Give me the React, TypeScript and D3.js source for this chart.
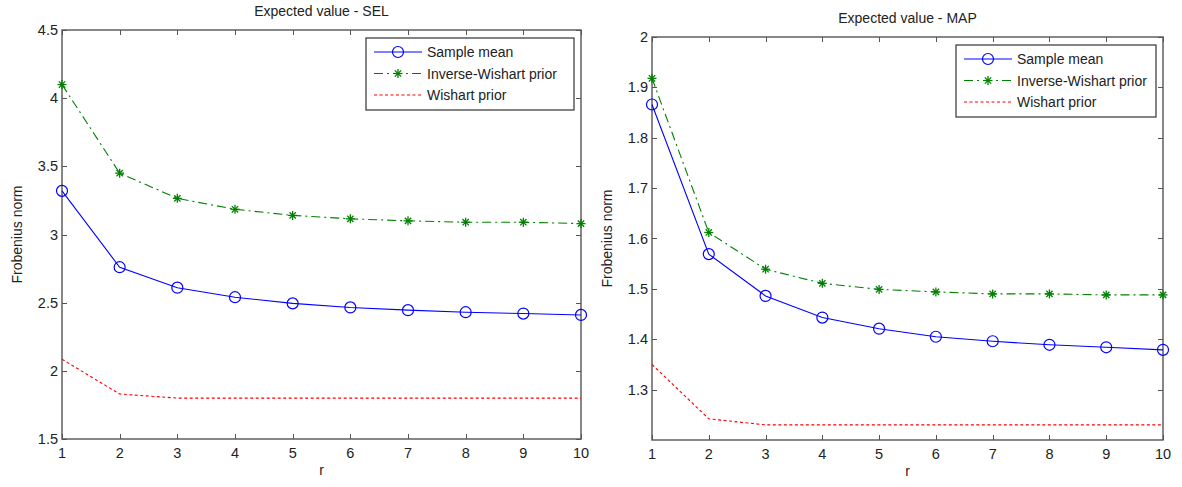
import { useRef, useEffect } from 'react'
import * as d3 from 'd3'

// r values on the x axis
const rValues = [1, 2, 3, 4, 5, 6, 7, 8, 9, 10]

// Expected value - SEL
const selSampleMean = [3.32, 2.76, 2.61, 2.54, 2.495, 2.465, 2.445, 2.43, 2.42, 2.41]
const selInvWishart = [4.1, 3.45, 3.265, 3.185, 3.14, 3.115, 3.1, 3.09, 3.09, 3.08]
const selWishart = [2.085, 1.83, 1.8, 1.8, 1.8, 1.8, 1.8, 1.8, 1.8, 1.8]
const selYTicks = [1.5, 2, 2.5, 3, 3.5, 4, 4.5]

// Expected value - MAP
const mapSampleMean = [1.866, 1.569, 1.486, 1.443, 1.421, 1.405, 1.396, 1.389, 1.384, 1.379]
const mapInvWishart = [1.918, 1.612, 1.539, 1.511, 1.499, 1.494, 1.49, 1.49, 1.488, 1.488]
const mapWishart = [1.35, 1.242, 1.23, 1.23, 1.23, 1.23, 1.23, 1.23, 1.23, 1.23]
const mapYTicks = [1.3, 1.4, 1.5, 1.6, 1.7, 1.8, 1.9, 2]

const seriesNames = ['Sample mean', 'Inverse-Wishart prior', 'Wishart prior']

const FONT = '"Liberation Sans", Arial, sans-serif'
const AXIS_COLOR = '#555'
const TEXT_COLOR = '#222'

const styles = [
  { color: '#0000ff', dash: null, marker: 'circle' },
  { color: '#008000', dash: '9,4,2,4', marker: 'star' },
  { color: '#ff0000', dash: '3,2.5', marker: null },
]

function drawPanel(svg, cfg) {
  const { left, right, top, bottom, title, yDomain, yTicks, series, legend } = cfg
  const g = svg.append('g')

  const x = d3.scaleLinear().domain([1, 10]).range([left, right])
  const y = d3.scaleLinear().domain(yDomain).range([bottom, top])

  // frame
  g.append('rect')
    .attr('x', left)
    .attr('y', top)
    .attr('width', right - left)
    .attr('height', bottom - top)
    .attr('fill', '#fff')
    .attr('stroke', AXIS_COLOR)
    .attr('stroke-width', 1.4)

  // ticks (inward, all four sides)
  const tl = 5
  rValues.forEach((r) => {
    const px = Math.round(x(r)) + 0.5
    g.append('line').attr('x1', px).attr('x2', px).attr('y1', bottom).attr('y2', bottom - tl).attr('stroke', AXIS_COLOR)
    g.append('line').attr('x1', px).attr('x2', px).attr('y1', top).attr('y2', top + tl).attr('stroke', AXIS_COLOR)
    g.append('text')
      .attr('x', x(r))
      .attr('y', bottom + 19)
      .attr('text-anchor', 'middle')
      .attr('font-family', FONT)
      .attr('font-size', 14.5)
      .attr('fill', TEXT_COLOR)
      .text(r)
  })
  yTicks.forEach((v) => {
    const py = Math.round(y(v)) + 0.5
    g.append('line').attr('x1', left).attr('x2', left + tl).attr('y1', py).attr('y2', py).attr('stroke', AXIS_COLOR)
    g.append('line').attr('x1', right).attr('x2', right - tl).attr('y1', py).attr('y2', py).attr('stroke', AXIS_COLOR)
    g.append('text')
      .attr('x', left - 4)
      .attr('y', y(v) + 5)
      .attr('text-anchor', 'end')
      .attr('font-family', FONT)
      .attr('font-size', 14.5)
      .attr('fill', TEXT_COLOR)
      .text(String(v))
  })

  // title and axis labels
  g.append('text')
    .attr('x', (left + right) / 2)
    .attr('y', top - 14)
    .attr('text-anchor', 'middle')
    .attr('font-family', FONT)
    .attr('font-size', 14)
    .attr('fill', TEXT_COLOR)
    .text(title)
  g.append('text')
    .attr('x', (left + right) / 2)
    .attr('y', bottom + 36)
    .attr('text-anchor', 'middle')
    .attr('font-family', FONT)
    .attr('font-size', 14)
    .attr('fill', TEXT_COLOR)
    .text('r')
  g.append('text')
    .attr('transform', `translate(${left - 40},${(top + bottom) / 2}) rotate(-90)`)
    .attr('text-anchor', 'middle')
    .attr('font-family', FONT)
    .attr('font-size', 14)
    .attr('fill', TEXT_COLOR)
    .text('Frobenius norm')

  // lines
  const line = d3
    .line()
    .x((d, i) => x(rValues[i]))
    .y((d) => y(d))

  const drawMarker = (sel, kind, cx, cy, color) => {
    if (kind === 'circle') {
      sel.append('circle').attr('cx', cx).attr('cy', cy).attr('r', 5.5).attr('fill', 'none').attr('stroke', color).attr('stroke-width', 1.2)
    } else if (kind === 'star') {
      const s = 4.5
      const p = sel.append('g').attr('stroke', color).attr('stroke-width', 1.3)
      p.append('line').attr('x1', cx - s).attr('x2', cx + s).attr('y1', cy).attr('y2', cy)
      p.append('line').attr('x1', cx).attr('x2', cx).attr('y1', cy - s).attr('y2', cy + s)
      p.append('line').attr('x1', cx - s * 0.7).attr('x2', cx + s * 0.7).attr('y1', cy - s * 0.7).attr('y2', cy + s * 0.7)
      p.append('line').attr('x1', cx - s * 0.7).attr('x2', cx + s * 0.7).attr('y1', cy + s * 0.7).attr('y2', cy - s * 0.7)
    }
  }

  series.forEach((vals, k) => {
    const st = styles[k]
    g.append('path')
      .datum(vals)
      .attr('d', line)
      .attr('fill', 'none')
      .attr('stroke', st.color)
      .attr('stroke-width', 1.1)
      .attr('stroke-dasharray', st.dash)
    if (st.marker) {
      vals.forEach((v, i) => drawMarker(g, st.marker, x(rValues[i]), y(v), st.color))
    }
  })

  // legend
  const lg = g.append('g')
  lg.append('rect')
    .attr('x', legend.x)
    .attr('y', legend.y)
    .attr('width', legend.w)
    .attr('height', legend.h)
    .attr('fill', '#fff')
    .attr('stroke', '#333')
    .attr('stroke-width', 1.2)
  seriesNames.forEach((name, k) => {
    const st = styles[k]
    const ly = legend.y + 14 + k * 21.5
    lg.append('line')
      .attr('x1', legend.x + 8)
      .attr('x2', legend.x + 56)
      .attr('y1', ly)
      .attr('y2', ly)
      .attr('stroke', st.color)
      .attr('stroke-width', 1.1)
      .attr('stroke-dasharray', st.dash)
    if (st.marker) drawMarker(lg, st.marker, legend.x + 32, ly, st.color)
    lg.append('text')
      .attr('x', legend.x + 61)
      .attr('y', ly + 5)
      .attr('font-family', FONT)
      .attr('font-size', 14)
      .attr('fill', TEXT_COLOR)
      .text(name)
  })
}

export default function App() {
  const svgRef = useRef(null)

  useEffect(() => {
    const svg = d3.select(svgRef.current)
    svg.selectAll('*').remove()

    drawPanel(svg, {
      left: 62,
      right: 581,
      top: 30,
      bottom: 439,
      title: 'Expected value - SEL',
      yDomain: [1.5, 4.5],
      yTicks: selYTicks,
      series: [selSampleMean, selInvWishart, selWishart],
      legend: { x: 366, y: 38, w: 208, h: 72 },
    })

    drawPanel(svg, {
      left: 652,
      right: 1163,
      top: 37,
      bottom: 440,
      title: 'Expected value - MAP',
      yDomain: [1.2, 2],
      yTicks: mapYTicks,
      series: [mapSampleMean, mapInvWishart, mapWishart],
      legend: { x: 956, y: 45, w: 200, h: 72 },
    })
  }, [])

  return (
    <svg
      ref={svgRef}
      width={1182}
      height={487}
      style={{ position: 'absolute', left: 0, top: 0, background: '#fff' }}
    />
  )
}
